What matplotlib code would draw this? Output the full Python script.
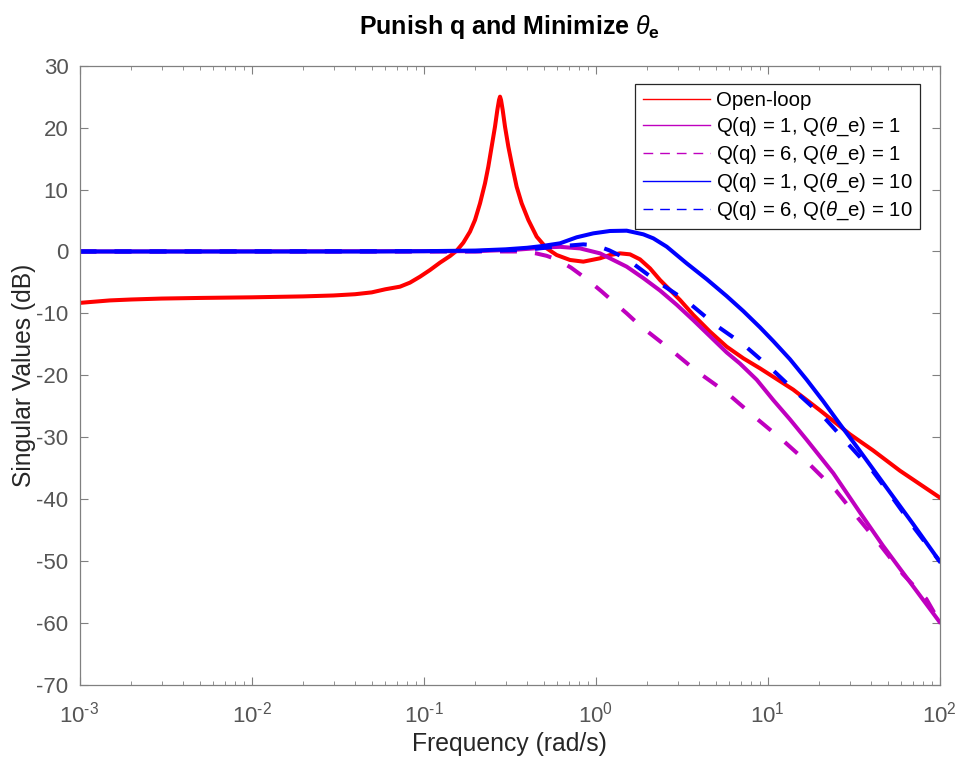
import matplotlib
matplotlib.use('Agg')
import matplotlib.pyplot as plt
from matplotlib.lines import Line2D
from matplotlib.ticker import FuncFormatter
import numpy as np

plt.rcParams['font.family'] = ['Liberation Sans', 'DejaVu Sans']
plt.rcParams['mathtext.fontset'] = 'custom'
plt.rcParams['mathtext.rm'] = 'Liberation Sans'
plt.rcParams['mathtext.it'] = 'Liberation Sans:italic'
plt.rcParams['mathtext.bf'] = 'Liberation Sans:bold'
plt.rcParams['axes.unicode_minus'] = False

# singular values (dB) read at selected frequencies (rad/s)
w_open = [1e-3, 1.5e-3, 2e-3, 3e-3, 5e-3, 1e-2, 2e-2, 3e-2, 4e-2, 5e-2, 0.06,
          0.0730, 0.0834, 0.0954, 0.1091, 0.1247, 0.1426, 0.1559, 0.1704, 0.1863,
          0.1992, 0.2131, 0.2278, 0.2381, 0.2490, 0.2604, 0.2687, 0.2748, 0.2785,
          0.2823, 0.2886, 0.2977, 0.3113, 0.3284, 0.3479, 0.3721, 0.4070, 0.4550,
          0.5201, 0.5945, 0.7108, 0.8495, 1.062, 1.214, 1.388, 1.587, 1.814, 2.074,
          2.371, 2.711, 3.099, 3.706, 4.633, 5.788, 7.236, 9.046, 14.1, 20.1, 30.1,
          41.0, 58.9, 100]
sv_open = [-8.3, -7.9, -7.75, -7.6, -7.5, -7.4, -7.25, -7.1, -6.9, -6.6, -6.1,
           -5.68, -5.03, -4.07, -2.99, -1.80, -0.73, 0.13, 1.42, 3.20,
           5.08, 7.78, 11.01, 13.70, 16.93, 20.16, 22.85, 24.46, 25.0,
           24.46, 22.85, 20.16, 16.93, 13.70, 10.46, 7.78, 5.08, 2.39,
           0.51, -0.57, -1.37, -1.64, -1.10, -0.57, -0.30, -0.46, -1.27, -2.72,
           -4.60, -6.22, -7.83, -10.25, -12.95, -15.37, -17.25, -18.87, -22.3, -25.6, -29.5,
           -32.1, -35.4, -39.7]

w_q1_t1 = [1e-3, 0.2, 0.35, 0.55, 0.6217, 0.8127, 1.062, 1.518, 1.897, 2.371, 2.964,
           3.706, 4.633, 5.788, 6.92, 8.65, 10.81, 13.5, 16.89, 24.13, 34.4, 46.9,
           67.0, 100]
sv_q1_t1 = [0.0, 0.05, 0.3, 0.7, 0.75, 0.5, -0.3, -2.45, -4.3, -6.3, -8.6,
            -11.1, -13.7, -16.3, -18.1, -20.7, -24.0, -27.1, -30.4, -35.8, -42.1, -47.5,
            -53.3, -59.8]

w_q6_t1 = [1e-3, 0.3, 0.375, 0.45, 0.52, 0.598, 0.72, 0.893, 1.08, 1.28, 1.52, 1.82,
           2.72, 3.86, 5.79, 8.5, 12.4, 17.6, 25.0, 33.5, 44.9, 61.3, 83.8, 100]
sv_q6_t1 = [0.0, 0.0, 0.0, -0.3, -0.7, -1.3, -2.6, -4.5, -6.4, -8.2, -10.0, -12.0,
            -15.8, -19.3, -22.8, -26.8, -30.6, -34.4, -38.6, -43.0, -47.3, -52.1, -56.1, -59.8]

w_q1_t10 = [1e-3, 0.05, 0.1, 0.2, 0.3, 0.4, 0.48, 0.6217, 0.777, 0.971, 1.214, 1.518,
            1.897, 2.169, 2.593, 3.388, 4.430, 5.788, 7.236, 9.046, 10.81, 13.51,
            16.89, 21.11, 26.39, 32.99, 41.24, 51.55, 70.2, 100]
sv_q1_t10 = [0.0, 0.0, 0.05, 0.15, 0.35, 0.6, 0.85, 1.32, 2.29, 2.93, 3.31, 3.36,
             2.77, 2.12, 0.78, -1.91, -4.47, -7.2, -9.63, -12.25, -14.48, -17.4,
             -20.7, -24.2, -27.9, -31.5, -35.2, -38.9, -44.0, -50.0]

w_q6_t10 = [1e-3, 0.2, 0.4, 0.6, 0.85, 1.0, 1.2, 1.52, 2.27, 3.39, 4.95, 7.23,
            10.6, 15.2, 21.5, 29.7, 41.0, 52.5, 72.0, 100]
sv_q6_t10 = [0.0, 0.05, 0.3, 0.8, 1.15, 1.0, 0.2, -1.2, -4.8, -8.0, -11.8, -15.0,
             -19.0, -23.1, -26.9, -31.2, -35.5, -39.5, -44.8, -50.0]

labels = ['Open-loop',
          r'Q(q) = 1, Q($\theta$_e) = 1',
          r'Q(q) = 6, Q($\theta$_e) = 1',
          r'Q(q) = 1, Q($\theta$_e) = 10',
          r'Q(q) = 6, Q($\theta$_e) = 10']

red = '#ff0000'
mag = '#bf00bf'
blue = '#0000ff'
lw = 2.9
dash = (4.2, 4.5)


def decade_label(x, pos):
    # 10^n with a short hyphen in the exponent
    n = int(round(np.log10(x)))
    exp = str(n).replace('-', '\u2010')
    return r'$\mathdefault{10^{%s}}$' % exp


fig = plt.figure(figsize=(9.58, 7.62), dpi=100)
ax = fig.add_axes([0.0830, 0.1010, 0.8977, 0.8128])

ax.plot(w_open, sv_open, color=red, lw=lw)
ax.plot(w_q1_t1, sv_q1_t1, color=mag, lw=lw)
ax.plot(w_q6_t1, sv_q6_t1, color=mag, lw=lw, dashes=dash)
ax.plot(w_q1_t10, sv_q1_t10, color=blue, lw=lw)
ax.plot(w_q6_t10, sv_q6_t10, color=blue, lw=lw, dashes=dash)

ax.set_xscale('log')
ax.set_xlim(1e-3, 1e2)
ax.set_ylim(-70, 30)
ax.set_yticks(range(-70, 31, 10))
ax.xaxis.set_major_formatter(FuncFormatter(decade_label))

axis_grey = '#808080'
for s in ax.spines.values():
    s.set_color(axis_grey)
    s.set_linewidth(0.9)
ax.tick_params(which='both', direction='in', top=True, right=True,
               colors=axis_grey, labelcolor='#555555', labelsize=16)
ax.tick_params(which='major', length=6)
ax.tick_params(which='minor', length=3)
ax.tick_params(axis='x', which='major', pad=12)
ax.tick_params(axis='y', which='major', pad=8)
ax.tick_params(axis='y', which='minor', left=False, right=False)

ax.set_xlabel('Frequency (rad/s)', fontsize=17.8, color='#262626', labelpad=3)
ax.set_ylabel('Singular Values (dB)', fontsize=17.7, color='#262626', labelpad=0)
ax.set_title(r'Punish q and Minimize $\theta_\mathbf{e}$', fontsize=18,
             fontweight='bold', pad=23)

# thin lines in the legend, as in the original figure
handles = [Line2D([], [], color=red, lw=1.0),
           Line2D([], [], color=mag, lw=1.0),
           Line2D([], [], color=mag, lw=1.0, dashes=(7, 5)),
           Line2D([], [], color=blue, lw=1.0),
           Line2D([], [], color=blue, lw=1.0, dashes=(7, 5))]
leg = ax.legend(handles, labels, loc='upper right', bbox_to_anchor=(0.9773, 0.9705),
                borderaxespad=0, fontsize=14.7, fancybox=False, framealpha=1,
                edgecolor='#262626', handlelength=3.3, handletextpad=0.3,
                labelspacing=0.27, borderpad=0.35)
leg.get_frame().set_linewidth(0.9)

fig.savefig('out.png', dpi=100)
